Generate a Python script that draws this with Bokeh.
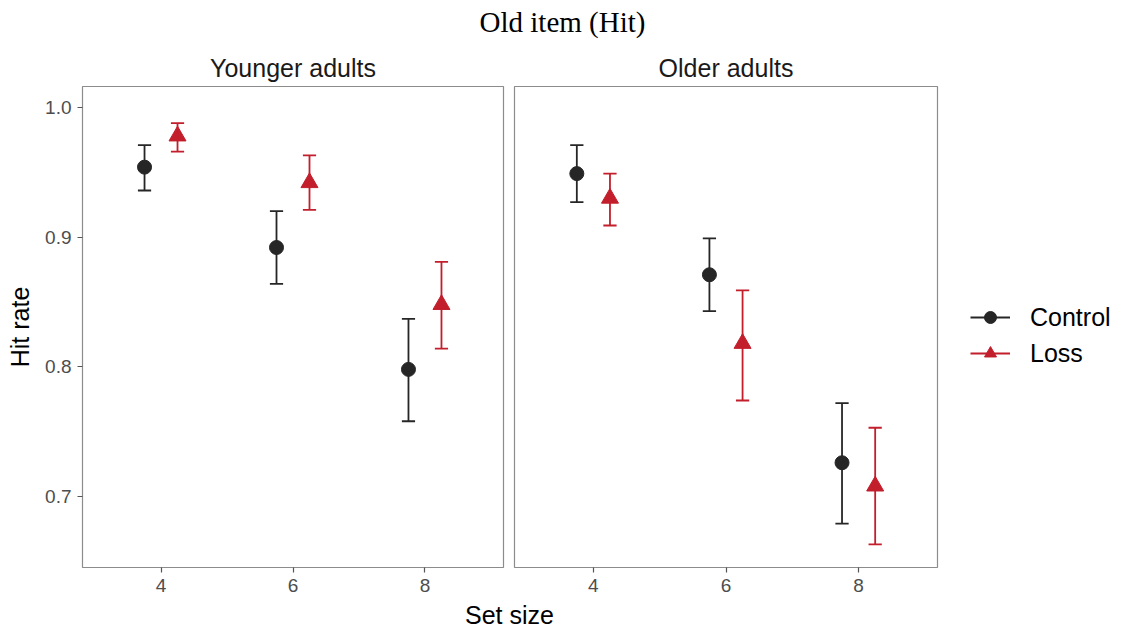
from bokeh.plotting import figure
from bokeh.layouts import column, row
from bokeh.models import (Range1d, FixedTicker, Label, Legend, LegendItem,
                          ColumnDataSource, PrintfTickFormatter)
from bokeh.embed import file_html
from bokeh.resources import INLINE

# ---------------- data ----------------
set_sizes = [4, 6, 8]
groups = ["Younger adults", "Older adults"]
conditions = ["Control", "Loss"]

young_control_mean = [0.954, 0.892, 0.798]
young_control_low = [0.936, 0.864, 0.758]
young_control_high = [0.971, 0.920, 0.837]

young_loss_mean = [0.978, 0.942, 0.848]
young_loss_low = [0.966, 0.921, 0.814]
young_loss_high = [0.988, 0.963, 0.881]

old_control_mean = [0.949, 0.871, 0.726]
old_control_low = [0.927, 0.843, 0.679]
old_control_high = [0.971, 0.899, 0.772]

old_loss_mean = [0.930, 0.818, 0.708]
old_loss_low = [0.909, 0.774, 0.663]
old_loss_high = [0.949, 0.859, 0.753]

y_ticks = [0.7, 0.8, 0.9, 1.0]
x_ticks = [4, 6, 8]

# ---------------- style ----------------
FONT = "Liberation Sans"
SERIF = "Liberation Serif"
COLORS = {"Control": "#262626", "Loss": "#C21E2B"}
MARKERS = {"Control": "circle", "Loss": "triangle"}
SIZES = {"Control": 14, "Loss": 17}
DODGE = {"Control": -0.25, "Loss": 0.25}
CAP = 0.1
BORDER = "#8C8C8C"

X_RANGE = (2.81, 9.19)
Y_RANGE = (0.6452, 1.0162)

TOP_H = 40
ROW_H = 560
BOT_H = 632 - TOP_H - ROW_H
FRAME_TOP = 86 - TOP_H
FRAME_BOTTOM = 567 - TOP_H
P1_W = 508
P2_W = 945 - P1_W
LEG_W = 1125 - 945


def make_panel(width, left, right, show_y, strip):
    p = figure(width=width, height=ROW_H,
               x_range=Range1d(*X_RANGE), y_range=Range1d(*Y_RANGE),
               output_backend="svg", toolbar_location=None,
               min_border_left=left, min_border_right=right,
               min_border_top=FRAME_TOP, min_border_bottom=ROW_H - FRAME_BOTTOM,
               y_axis_location="left" if show_y else None,
               title=strip)
    p.grid.visible = False
    p.outline_line_color = BORDER
    p.outline_line_width = 1.2
    p.background_fill_color = "white"
    p.border_fill_color = "white"
    p.title.align = "center"
    p.title.text_font = FONT
    p.title.text_font_size = "25px"
    p.title.text_font_style = "normal"
    p.title.text_color = "#1A1A1A"
    p.title.standoff = 10
    p.xaxis.ticker = FixedTicker(ticks=x_ticks)
    axes = list(p.xaxis) + (list(p.yaxis) if show_y else [])
    for ax in axes:
        ax.axis_line_color = None
        ax.major_tick_in = 0
        ax.major_tick_out = 5
        ax.major_tick_line_color = "#555555"
        ax.major_tick_line_width = 1.2
        ax.minor_tick_line_color = None
        ax.major_label_text_font = FONT
        ax.major_label_text_font_size = "19px"
        ax.major_label_text_color = "#4D4D4D"
    p.xaxis.major_label_standoff = 6
    if show_y:
        p.yaxis.major_label_standoff = 6
        p.yaxis.ticker = FixedTicker(ticks=y_ticks)
        p.yaxis.formatter = PrintfTickFormatter(format="%.1f")
        p.yaxis.axis_label = "Hit rate"
        p.yaxis.axis_label_text_font = FONT
        p.yaxis.axis_label_text_font_size = "25px"
        p.yaxis.axis_label_text_font_style = "normal"
        p.yaxis.axis_label_text_color = "black"
        p.yaxis.axis_label_standoff = 8
    return p


def draw_condition(p, cond, mean, low, high):
    xs = [s + DODGE[cond] for s in set_sizes]
    x0, y0, x1, y1 = [], [], [], []
    for x, lo, hi in zip(xs, low, high):
        x0 += [x, x - CAP, x - CAP]
        y0 += [lo, lo, hi]
        x1 += [x, x + CAP, x + CAP]
        y1 += [hi, lo, hi]
    seg_src = ColumnDataSource(dict(x0=x0, y0=y0, x1=x1, y1=y1))
    pt_src = ColumnDataSource(dict(x=xs, y=mean))
    p.segment(x0="x0", y0="y0", x1="x1", y1="y1", source=seg_src,
              line_color=COLORS[cond], line_width=1.8)
    p.scatter(x="x", y="y", source=pt_src,
              marker=MARKERS[cond], size=SIZES[cond],
              fill_color=COLORS[cond], line_color=COLORS[cond])
    return seg_src, pt_src


# left panel: frame 82..503
p1 = make_panel(P1_W, 82, 5, True, groups[0])
draw_condition(p1, "Control", young_control_mean, young_control_low, young_control_high)
draw_condition(p1, "Loss", young_loss_mean, young_loss_low, young_loss_high)

# right panel: frame 514..937
p2 = make_panel(P2_W, 6, 8, False, groups[1])
sources = {
    "Control": draw_condition(p2, "Control", old_control_mean, old_control_low, old_control_high),
    "Loss": draw_condition(p2, "Loss", old_loss_mean, old_loss_low, old_loss_high),
}

# legend strip: its own figure; key renderers share the panel data but stay hidden
pl = figure(width=LEG_W, height=ROW_H, x_range=Range1d(0, 1), y_range=Range1d(0, 1),
            output_backend="svg", toolbar_location=None,
            x_axis_location=None, y_axis_location=None,
            min_border=0, min_border_left=0, min_border_right=0,
            min_border_top=0, min_border_bottom=0)
pl.grid.visible = False
pl.outline_line_color = None
items = []
for cond in conditions:
    seg_src, pt_src = sources[cond]
    seg = pl.segment(x0="x0", y0="y0", x1="x1", y1="y1", source=seg_src,
                     line_color=COLORS[cond], line_width=1.8)
    pts = pl.scatter(x="x", y="y", source=pt_src, marker=MARKERS[cond], size=SIZES[cond],
                     fill_color=COLORS[cond], line_color=COLORS[cond])
    seg.visible = False
    pts.visible = False
    items.append(LegendItem(label=cond, renderers=[seg, pts]))
legend = Legend(items=items, location=(25, 199),
                orientation="vertical",
                border_line_color=None, background_fill_alpha=0,
                inactive_fill_alpha=0,
                label_text_font=FONT, label_text_font_size="25px",
                label_text_color="black",
                glyph_width=40, glyph_height=30, label_height=30,
                spacing=6, padding=5, margin=0, label_standoff=20)
pl.add_layout(legend)


def text_strip(width, height, text, x, y, font, size):
    f = figure(width=width, height=height,
               x_range=Range1d(0, width), y_range=Range1d(0, height),
               output_backend="svg", toolbar_location=None,
               x_axis_location=None, y_axis_location=None,
               min_border=0, min_border_left=0, min_border_right=0,
               min_border_top=0, min_border_bottom=0)
    f.grid.visible = False
    f.outline_line_color = None
    f.add_layout(Label(x=x, y=y, text=text,
                       text_align="center", text_baseline="middle",
                       text_font=font, text_font_size=size, text_color="black"))
    return f


# y given as distance from the strip's bottom edge
top = text_strip(1125, TOP_H, "Old item (Hit)", 562, TOP_H - 21, SERIF, "29px")
bottom = text_strip(1125, BOT_H, "Set size", 509, BOT_H - (614 - (TOP_H + ROW_H)), FONT, "25px")

layout = column(top, row(p1, p2, pl), bottom)

open("out.html", "w").write(file_html(layout, INLINE))
